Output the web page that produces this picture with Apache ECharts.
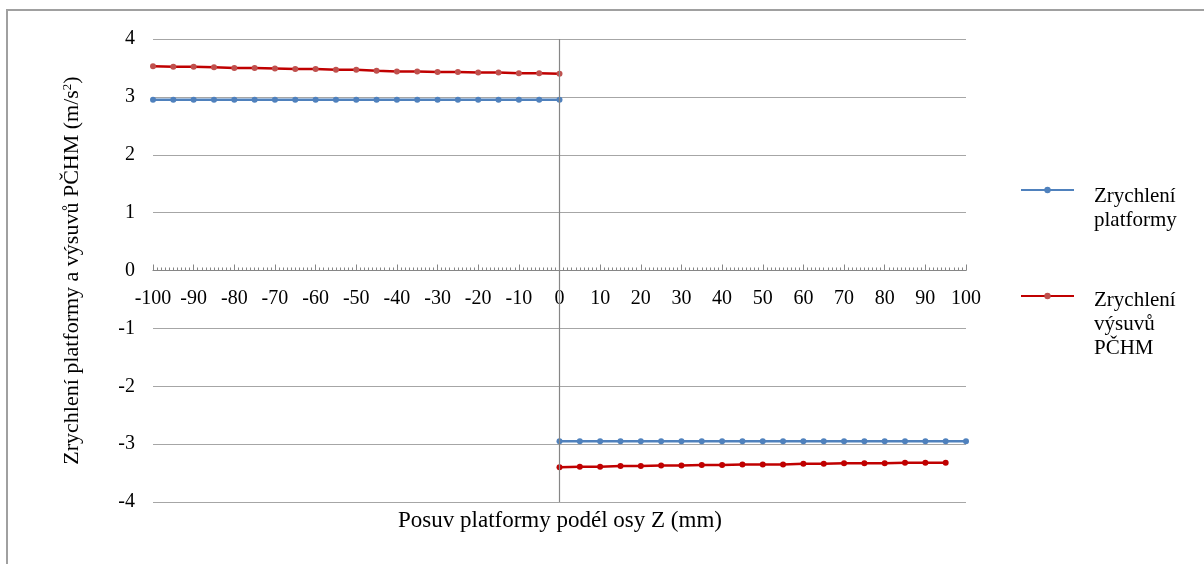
<!DOCTYPE html>
<html>
<head>
<meta charset="utf-8">
<script src="https://cdn.jsdelivr.net/npm/echarts@6/dist/echarts.min.js"></script>
<style>
  html, body { margin: 0; padding: 0; background: #fff; }
  #chart { width: 1204px; height: 564px; }
</style>
</head>
<body>
<div id="chart"></div>
<script>
// ---------------- data ----------------
var xLeft = [-100, -95, -90, -85, -80, -75, -70, -65, -60, -55, -50, -45, -40, -35, -30, -25, -20, -15, -10, -5, 0];
var xRightBlue = [0, 5, 10, 15, 20, 25, 30, 35, 40, 45, 50, 55, 60, 65, 70, 75, 80, 85, 90, 95, 100];
var xRightRed = [0, 5, 10, 15, 20, 25, 30, 35, 40, 45, 50, 55, 60, 65, 70, 75, 80, 85, 90, 95];

var blueLeft = [2.95, 2.95, 2.95, 2.95, 2.95, 2.95, 2.95, 2.95, 2.95, 2.95, 2.95, 2.95, 2.95, 2.95, 2.95, 2.95, 2.95, 2.95, 2.95, 2.95, 2.95];
var blueRight = [-2.95, -2.95, -2.95, -2.95, -2.95, -2.95, -2.95, -2.95, -2.95, -2.95, -2.95, -2.95, -2.95, -2.95, -2.95, -2.95, -2.95, -2.95, -2.95, -2.95, -2.95];
var redLeft = [3.53, 3.52, 3.52, 3.51, 3.50, 3.50, 3.49, 3.48, 3.48, 3.47, 3.47, 3.45, 3.44, 3.44, 3.43, 3.43, 3.42, 3.42, 3.41, 3.41, 3.40];
var redRight = [-3.40, -3.39, -3.39, -3.38, -3.38, -3.37, -3.37, -3.36, -3.36, -3.35, -3.35, -3.35, -3.34, -3.34, -3.33, -3.33, -3.33, -3.32, -3.32, -3.32];

var nameBlue = 'Zrychlení\nplatformy';
var nameRed = 'Zrychlení\nvýsuvů\nPČHM';

// ---------------- helpers ----------------
function pairs(xs, ys) {
  var out = [];
  for (var i = 0; i < xs.length; i++) out.push([xs[i], ys[i]]);
  return out;
}

var FONT = 'Liberation Serif';
var AXIS = '#868686';
var GRID = '#a6a6a6';

var gridTop = 39, gridBottom = 62;
var plotH = 564 - gridTop - gridBottom;

function lineSeries(name, data, lineColor, dotColor) {
  return {
    name: name,
    type: 'line',
    data: data,
    symbol: 'circle',
    symbolSize: 6,
    lineStyle: { color: lineColor, width: 2.5 },
    itemStyle: { color: dotColor },
    z: 3
  };
}

// legend text pushed down so the icon sits by the first line
function legendBox(name, top, spacer) {
  return {
    data: [name],
    orient: 'vertical',
    left: 1020,
    top: top,
    padding: 0,
    itemWidth: 53,
    itemHeight: 8,
    formatter: function (n) { return '{s| }\n' + n; },
    textStyle: {
      fontFamily: FONT, fontSize: 21, lineHeight: 24, color: '#000', padding: [0, 0, 0, 15],
      rich: { s: { fontSize: 4, lineHeight: spacer } }
    }
  };
}

// ---------------- options ----------------
var s1 = lineSeries(nameBlue, pairs(xLeft, blueLeft), '#4f81bd', '#4f81bd');
s1.markLine = {
  silent: true,
  symbol: 'none',
  label: { show: false },
  lineStyle: { color: AXIS, type: 'solid', width: 1.2 },
  data: [{ xAxis: 0 }]
};

var option = {
  animation: false,
  backgroundColor: '#fff',
  textStyle: { fontFamily: FONT },
  title: {
    text: 'Posuv platformy podél osy Z (mm)',
    left: 560,
    top: 509,
    textAlign: 'center',
    padding: 0,
    textStyle: { fontFamily: FONT, fontSize: 23, fontWeight: 'normal', color: '#000' }
  },
  graphic: [{
    type: 'rect',
    shape: { x: 7, y: 10, width: 1400, height: 800 },
    style: { fill: 'none', stroke: '#a0a0a0', lineWidth: 2 },
    silent: true
  }],
  grid: { left: 153, right: 238, top: gridTop, bottom: gridBottom },
  legend: [legendBox(nameBlue, 148, 36), legendBox(nameRed, 232, 56)],
  xAxis: {
    type: 'value',
    min: -100,
    max: 100,
    interval: 10,
    position: 'bottom',
    offset: -plotH / 2,   // axis crosses y = 0 (middle of the -4..4 range)
    axisLine: { onZero: false, lineStyle: { color: AXIS, width: 1.2 } },
    axisTick: { show: true, inside: true, length: 6, lineStyle: { color: AXIS } },
    minorTick: { show: true, splitNumber: 10, length: 3, lineStyle: { color: AXIS } },
    axisLabel: { fontFamily: FONT, fontSize: 20, color: '#000', margin: 18 },
    splitLine: { show: false }
  },
  yAxis: {
    type: 'value',
    min: -4,
    max: 4,
    interval: 1,
    name: 'Zrychlení platformy a výsuvů PČHM (m/s{sup|2})',
    nameLocation: 'middle',
    nameGap: 70,
    nameRotate: 90,
    nameTextStyle: {
      fontFamily: FONT, fontSize: 22, color: '#000',
      rich: { sup: { fontFamily: FONT, fontSize: 13, color: '#000', verticalAlign: 'top' } }
    },
    axisLine: { show: false, onZero: false },
    axisTick: { show: false },
    axisLabel: { fontFamily: FONT, fontSize: 20, color: '#000', margin: 18 },
    splitLine: { lineStyle: { color: GRID, width: 1.2 } }
  },
  series: [
    s1,
    lineSeries(nameBlue, pairs(xRightBlue, blueRight), '#4f81bd', '#4f81bd'),
    lineSeries(nameRed, pairs(xLeft, redLeft), '#c00000', '#c0504d'),
    lineSeries(nameRed, pairs(xRightRed, redRight), '#c00000', '#c00000')
  ]
};

var chart = echarts.init(document.getElementById('chart'), null, { renderer: 'canvas' });
chart.setOption(option);
</script>
</body>
</html>
